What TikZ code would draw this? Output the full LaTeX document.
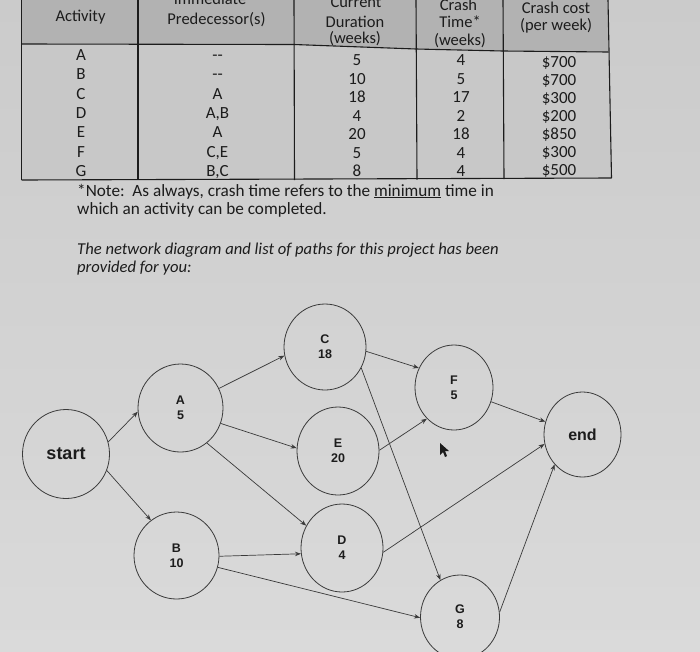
\documentclass[tikz,border=0pt]{standalone}
\usepackage{fontspec}
\setmainfont{Carlito}
\newfontfamily\arialf{Liberation Sans}
\usetikzlibrary{arrows.meta,shapes.geometric}
\definecolor{ink}{HTML}{1C1C1C}
\definecolor{linec}{HTML}{3A3A3A}
\definecolor{bgtop}{HTML}{CBCBCB}
\definecolor{bgbot}{HTML}{DADADA}
\definecolor{hdfill}{HTML}{B2B2B2}
\definecolor{bodyfill}{HTML}{C8C8C8}
\begin{document}
\begin{tikzpicture}[x=1pt,y=-1pt,
  tab/.style={font=\fontsize{17}{19}\selectfont, text=ink, inner sep=0pt, anchor=base},
  hd/.style={font=\fontsize{16.5}{18}\selectfont, text=ink, inner sep=0pt, anchor=base},
  txt/.style={font=\fontsize{17.2}{19}\selectfont, text=ink, inner sep=0pt, anchor=base west},
  itx/.style={font=\fontsize{16.6}{19}\selectfont\itshape, text=ink, inner sep=0pt, anchor=base west},
  tline/.style={draw=ink, line width=1.1pt},
  ev/.style={ellipse, draw=linec, line width=0.8pt, minimum width=82pt, minimum height=86pt,
     inner sep=0pt, align=center, text=ink, font=\arialf\bfseries\fontsize{12.5}{15}\selectfont},
  arr/.style={-{Stealth[length=6pt,width=4.5pt]}, draw=linec, line width=0.7pt}]
\useasboundingbox (0,0) rectangle (700,651);
\clip (0,0) rectangle (700,651);
\shade[top color=bgtop, bottom color=bgbot] (0,0) rectangle (700,651);
% table fills
\fill[hdfill] (21.5,0) -- (608,0) -- (608,52) -- (503,51) -- (416,49) -- (294,44.5) -- (21.5,44) -- cycle;
\fill[bodyfill] (21.5,44) -- (294,44.5) -- (416,49) -- (503,51) -- (608,52) -- (611.5,178) -- (21.5,180) -- cycle;
% table lines
\draw[tline] (21.5,0) -- (21.5,180);
\draw[tline] (138,0) -- (138,180);
\draw[tline] (294,0) -- (294.5,180);
\draw[tline] (416,0) -- (417,179.5);
\draw[tline] (503,0) -- (504,179);
\draw[tline] (608,0) -- (611.5,178);
\draw[tline] (21.5,44) -- (294,44.5) -- (416,49) -- (503,51) -- (608,52);
\draw[tline] (21.5,180) -- (611.5,178);
% header text
\node[hd] (h1) at (80.5,21.5) {Activity};
\node[hd] (h2a) at (210,4) {Immediate};
\node[hd] (h2b) at (216.5,24) {Predecessor(s)};
\node[hd] (h3a) at (356,7.5) {Current};
\node[hd] (h3b) at (355,27) {Duration};
\node[hd] (h3c) at (355,43) {(weeks)};
\node[hd] (h4a) at (458.5,10) {Crash};
\node[hd] (h4b) at (460,27.5) {Time*};
\node[hd] (h4c) at (460,45) {(weeks)};
\node[hd] (h5a) at (556,13.5) {Crash cost};
\node[hd] (h5b) at (556,30) {(per week)};
% body
\foreach \t [count=\i] in {A,B,C,D,E,F,G}
  \node[tab] (act\i) at (81,{60.5+19.3*(\i-1)}) {\t};
\foreach \t [count=\i] in {{{-}{-}},{{-}{-}},A,{A,B},A,{C,E},{B,C}}
  \node[tab] (pre\i) at (217.5,{60.5+19.3*(\i-1)}) {\t};
\foreach \t [count=\i] in {5,10,18,4,20,5,8}
  \node[tab] (dur\i) at (357,{65.5+18.5*(\i-1)}) {\t};
\foreach \t [count=\i] in {4,5,17,2,18,4,4}
  \node[tab] (cra\i) at (461,{65.5+18.5*(\i-1)}) {\t};
\foreach \t [count=\i] in {\$700,\$700,\$300,\$200,\$850,\$300,\$500}
  \node[tab] (cst\i) at (559,{67.5+18*(\i-1)}) {\t};
% notes
\node[txt] (n1) at (77,196) {*Note:\ \ As always, crash time refers to the \underline{minimum} time in};
\node[txt] (n2) at (77,214) {which an activity can be completed.};
\node[itx] (n3) at (77,254) {The network diagram and list of paths for this project has been};
\node[itx] (n4) at (77,272) {provided for you:};
% network
\node[ev, minimum width=87pt, minimum height=89pt, font=\arialf\bfseries\fontsize{18}{20}\selectfont] (start) at (66,454) {start};
\node[ev, minimum width=85pt, minimum height=88pt] (A) at (180.5,408) {A\\5};
\node[ev, minimum width=85pt, minimum height=87pt] (B) at (176.5,555.5) {B\\10};
\node[ev, minimum width=82pt, minimum height=86pt] (C) at (325,347) {C\\18};
\node[ev, minimum width=82pt, minimum height=88pt] (E) at (338,451) {E\\20};
\node[ev, minimum width=82pt, minimum height=88pt] (D) at (342,548) {D\\4};
\node[ev, minimum width=78pt, minimum height=85pt] (F) at (454,387.5) {F\\5};
\node[ev, minimum width=79pt, minimum height=84pt] (G) at (460,617) {G\\8};
\node[ev, minimum width=77pt, minimum height=85pt, font=\arialf\bfseries\fontsize{16}{18}\selectfont] (end) at (582.5,434.5) {end};
\draw[arr] (start.16) -- (A.185);
\draw[arr] (start.-22) -- (B.126);
\draw[arr] (A.27) -- (C.192);
\draw[arr] (A.-21) -- (E.176);
\draw[arr] (A.-53) -- (D.148);
\draw[arr] (C.-6) -- (F.151);
\draw[arr] (C.-30) -- (G.118);
\draw[arr] (E.1) -- (F.229);
\draw[arr] (B.-1) -- (D.188);
\draw[arr] (B.-16) -- (G.181);
\draw[arr] (D.-6) -- (end.194);
\draw[arr] (F.-21) -- (end.161);
\draw[arr] (G.7) -- (end.227);
% mouse pointer
\fill[ink] (440,443) -- (440,455) -- (443,452) -- (445,457) -- (447,456) -- (445,451) -- (449,451) -- cycle;
\end{tikzpicture}
\end{document}
